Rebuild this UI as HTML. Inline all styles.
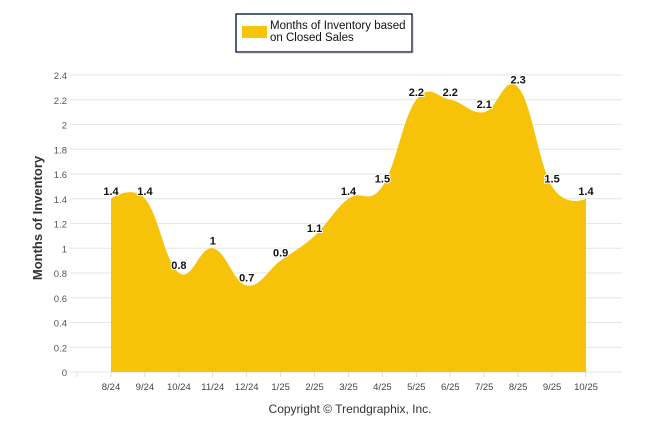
<!DOCTYPE html>
<html><head><meta charset="utf-8"><style>
body{margin:0;background:#fff;font-family:"Liberation Sans",sans-serif}
svg text{font-family:"Liberation Sans",sans-serif}
</style></head><body>
<svg id="c" width="646" height="434" xmlns="http://www.w3.org/2000/svg">
<rect x="236" y="14" width="176" height="38" fill="#fff" stroke="#1f2d4d" stroke-width="1.5"/>
<line x1="413" y1="16" x2="413" y2="53" stroke="#bbb"/>
<line x1="238" y1="53" x2="413" y2="53" stroke="#bbb"/>
<rect x="242" y="26" width="25" height="12" fill="#F7C308"/>
<text x="270" y="29" font-size="11.5" fill="#111">Months of Inventory based</text>
<text x="270" y="41" font-size="11.5" fill="#111">on Closed Sales</text>
<g id="grid"></g>
<g id="area"></g>
<g id="labels"></g>
<text transform="translate(42,218) rotate(-90)" text-anchor="middle" font-size="13" font-weight="bold" fill="#333">Months of Inventory</text>
<text x="350" y="413" text-anchor="middle" font-size="12" fill="#333">Copyright © Trendgraphix, Inc.</text>
</svg>
<script>
const categories=["8/24","9/24","10/24","11/24","12/24","1/25","2/25","3/25","4/25","5/25","6/25","7/25","8/25","9/25","10/25"];
const values=[1.4,1.4,0.8,1,0.7,0.9,1.1,1.4,1.5,2.2,2.2,2.1,2.3,1.5,1.4];
const yTicks=[0,0.2,0.4,0.6,0.8,1,1.2,1.4,1.6,1.8,2,2.2,2.4];
const NS="http://www.w3.org/2000/svg";
const x0=111,dx=(586-111)/14,yb=372,yt=75;
const X=i=>x0+i*dx, Y=v=>yb-(v/2.4)*(yb-yt);
function mk(t,a,p){const e=document.createElementNS(NS,t);for(const k in a)e.setAttribute(k,a[k]);p.appendChild(e);return e;}
const grid=document.getElementById('grid');
yTicks.forEach(v=>{
 const l=mk('line',{x1:70,x2:622,y1:Y(v),y2:Y(v),stroke:'#e6e6e6'},grid);
 
 
 const t=mk('text',{x:67,y:Y(v)+4,'text-anchor':'end','font-size':9.5,fill:'#555'},grid);
 t.textContent=v;
 
 
});
for(let k=0;k<16;k++){
 const xx=77+k*dx;
 const l=mk('line',{x1:xx,x2:xx,y1:yb,y2:yb+5,stroke:'#ddd'},grid);
 
 
}
categories.forEach((c,i)=>{
 const t=mk('text',{x:X(i),y:390,'text-anchor':'middle','font-size':9.5,fill:'#444'},grid);
 t.textContent=c;
 
 
});
const pts=values.map((v,i)=>[X(i),Y(v)]);
let d=`M${pts[0][0]},${yb} L${pts[0][0]},${pts[0][1]}`;
const sm=1.5;
function ctrl(i){
 const p=pts[i],prev=pts[i-1],next=pts[i+1];
 if(!prev||!next)return [p,p];
 let lx=(sm*p[0]+prev[0])/(sm+1),ly=(sm*p[1]+prev[1])/(sm+1);
 let rx=(sm*p[0]+next[0])/(sm+1),ry=(sm*p[1]+next[1])/(sm+1);
 let corr=0;
 if(rx!==lx) corr=((ry-ly)*(rx-p[0]))/(rx-lx)+p[1]-ry;
 ly+=corr;ry+=corr;
 return [[lx,ly],[rx,ry]];
}
const cs=pts.map((_,i)=>ctrl(i));
for(let i=1;i<pts.length;i++){
 const a=cs[i-1][1],b=cs[i][0];
 d+=` C${a[0]},${a[1]} ${b[0]},${b[1]} ${pts[i][0]},${pts[i][1]}`;
}
d+=` L${pts[pts.length-1][0]},${yb} Z`;
const ar=mk('path',{d:d,fill:'#F7C308'},document.getElementById('area'));


const lb=document.getElementById('labels');
values.forEach((v,i)=>{
 const t=mk('text',{x:X(i),y:Y(v)-4,'text-anchor':'middle','font-size':11,'font-weight':'bold',fill:'#111',stroke:'#fff','stroke-width':2,'paint-order':'stroke'},lb);
 t.textContent=v;
 
 
});
</script>
</body></html>
